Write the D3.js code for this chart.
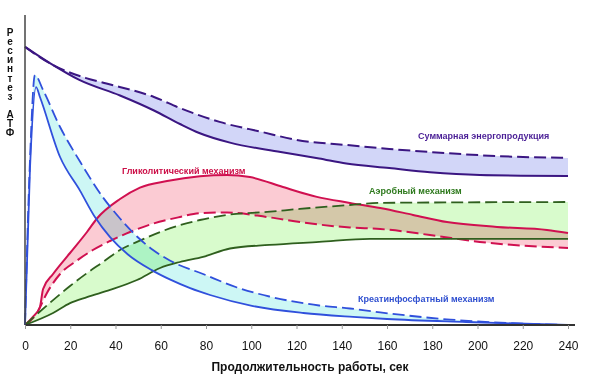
<!DOCTYPE html>
<html>
<head>
<meta charset="utf-8">
<script src="https://cdn.jsdelivr.net/npm/d3@7"></script>
<style>
  body { margin: 0; background: #fff; }
  svg { display: block; font-family: "Liberation Sans", Arial, sans-serif; }
</style>
</head>
<body>
<div id="container"></div>
<script>
/* CONSTANTS AND GLOBALS */
const width = 591,
  height = 375,
  margin = { top: 25, bottom: 50, left: 25, right: 23 };

// time ticks on the x axis (sec)
const xTicks = [0, 20, 40, 60, 80, 100, 120, 140, 160, 180, 200, 220, 240];

// each series: [time, relative ATP resynthesis]
const sumSolid = [[0, 92.7], [11, 87.3], [24, 81.7], [42, 76.5], [57, 71.5], [68.5, 67], [77, 64], [91, 60.7], [113, 57.7], [130, 55.5], [142, 53.8], [161, 52.3], [179, 50.9], [201, 50], [240, 49.7]];
const sumDashed = [[0, 92.7], [12, 86.8], [27, 82.3], [36, 80.5], [57, 76], [68.5, 72.3], [86, 67.7], [105, 64.3], [120, 61.7], [142, 60], [161, 58.7], [186, 57.3], [209, 56.3], [240, 55.7]];

const glySolid = [[0, 0], [3.5, 2.7], [6.6, 6], [8, 12], [12.4, 17], [19.9, 24], [27.4, 31], [31.8, 35.5], [42, 42], [50.8, 45.8], [62.8, 48], [77.3, 49.6], [89.3, 50], [99.4, 49.3], [114, 46], [129, 42.7], [143.6, 40.7], [157, 39], [171.5, 36.7], [186.5, 34.3], [208.6, 32.7], [230.7, 31.7], [240, 30.7]];
const glyDashed = [[0, 0], [5.3, 4], [9.7, 10.7], [15.5, 17], [23, 21.5], [30, 25], [37.6, 28], [46.4, 31], [56.6, 33.8], [68.5, 36], [77.3, 37.3], [89.3, 37.5], [107, 36], [121.5, 34.3], [143.6, 32.5], [157, 32], [179, 30], [201, 27.7], [240, 25.7]];

const aerSolid = [[0, 0], [12.4, 4], [19.9, 7.3], [27.4, 9.3], [37.6, 11.7], [49.5, 15], [59.7, 19], [68.5, 21], [78.7, 22.7], [90.6, 25.5], [108, 26.7], [130, 27.7], [152.5, 28.7], [240, 28.7]];
const aerDashed = [[0, 0], [12.4, 8.3], [19.9, 13], [27.4, 17.3], [34.5, 21], [42, 25], [49.5, 27.7], [59.7, 31], [68.5, 33.3], [77.3, 35], [89.3, 36.7], [107, 37.7], [121.5, 38.7], [143.6, 40], [157, 40.7], [240, 41]];

const creSolid = [[0, 0], [2.2, 52], [4.9, 79.3], [6.6, 76], [15.5, 56], [24.3, 44.8], [30.9, 36], [37.6, 29.3], [45.5, 23.5], [56, 18.3], [64, 15.2], [73, 12.3], [81.8, 10], [100.8, 6.3], [123, 4], [145, 2.7], [160, 2], [195, 1], [240, 0]];
const creDashed = [[0, 0], [2.2, 55], [4.4, 83.3], [8, 78.3], [15.5, 66], [24.3, 54.5], [34.5, 42.5], [42, 35.5], [49.5, 29.5], [56.6, 25], [64, 21.5], [78.7, 17], [93.7, 12.5], [108, 9.5], [130, 6.5], [143.6, 5.5], [157, 4.2], [188, 1.8], [210, 0.8], [240, 0]];

const yTitle = "Ресинтез АТФ";

const series = [
  { name: "Суммарная энергопродукция", solid: sumSolid, dashed: sumDashed, line: "#3b1682", fill: "#d2d6f8", text: "#4a1f96", lw: 2, lx: 418, ly: 139 },
  { name: "Гликолитический механизм", solid: glySolid, dashed: glyDashed, line: "#d01050", fill: "#fbcbd3", text: "#cc1048", lw: 2, lx: 122, ly: 174 },
  { name: "Аэробный механизм", solid: aerSolid, dashed: aerDashed, line: "#2f5f1e", fill: "#d8fbcc", text: "#2f7a1e", lw: 1.8, lx: 369, ly: 194 },
  { name: "Креатинфосфатный механизм", solid: creSolid, dashed: creDashed, line: "#3050dc", fill: "#cdf7f5", text: "#3050d0", lw: 1.8, lx: 358, ly: 302 }
];

/* SCALES */
const xScale = d3.scaleLinear()
  .domain([0, 240])
  .range([margin.left, width - margin.right]);

const yScale = d3.scaleLinear()
  .domain([0, 100])
  .range([height - margin.bottom, margin.top]);

const line = d3.line()
  .x(d => xScale(d[0]))
  .y(d => yScale(d[1]))
  .curve(d3.curveMonotoneX);

const svg = d3.select("#container")
  .append("svg")
  .attr("width", width)
  .attr("height", height);

svg.append("rect")
  .attr("width", width)
  .attr("height", height)
  .attr("fill", "#fff");

// bands between the solid and dashed curves
const bands = svg.append("g").attr("class", "bands");
series.forEach(s => {
  const back = line(s.dashed.slice().reverse());
  bands.append("path")
    .attr("d", line(s.solid) + "L" + back.slice(1) + "Z")
    .attr("fill", s.fill)
    .style("mix-blend-mode", "multiply");
});

// curves
series.forEach(s => {
  svg.append("path")
    .attr("d", line(s.dashed))
    .attr("fill", "none")
    .attr("stroke", s.line)
    .attr("stroke-width", s.lw)
    .attr("stroke-dasharray", "12,5");

  svg.append("path")
    .attr("d", line(s.solid))
    .attr("fill", "none")
    .attr("stroke", s.line)
    .attr("stroke-width", s.lw);

  svg.append("text")
    .attr("x", s.lx)
    .attr("y", s.ly)
    .attr("fill", s.text)
    .attr("font-size", 9)
    .attr("font-weight", "bold")
    .text(s.name);
});

// x axis
const xAxis = svg.append("g")
  .attr("class", "x-axis")
  .attr("transform", `translate(0, ${height - margin.bottom})`)
  .call(d3.axisBottom(xScale).tickValues(xTicks).tickSize(4).tickPadding(12));

xAxis.select(".domain")
  .attr("d", `M${margin.left},0H${width - 16}`)
  .attr("stroke", "#333")
  .attr("stroke-width", 2);
xAxis.selectAll(".tick line").attr("stroke", "#999");
xAxis.selectAll(".tick text")
  .attr("font-size", 12)
  .attr("font-family", "Liberation Sans, Arial, sans-serif")
  .attr("fill", "#111");

// y axis line (no ticks)
svg.append("line")
  .attr("x1", margin.left)
  .attr("x2", margin.left)
  .attr("y1", 15)
  .attr("y2", height - margin.bottom)
  .attr("stroke", "#444")
  .attr("stroke-width", 1.5);

// x axis label
svg.append("text")
  .attr("x", 310)
  .attr("y", 371)
  .attr("text-anchor", "middle")
  .attr("font-size", 12)
  .attr("font-weight", "bold")
  .attr("fill", "#111")
  .text("Продолжительность работы, сек");

// y axis label, upright letters stacked vertically
svg.append("text")
  .attr("class", "y-axis-label")
  .attr("x", 10)
  .attr("y", 27)
  .style("writing-mode", "vertical-rl")
  .style("text-orientation", "upright")
  .attr("font-size", 10)
  .attr("font-weight", "bold")
  .attr("letter-spacing", -1.9)
  .attr("fill", "#111")
  .text(yTitle);
</script>
</body>
</html>
